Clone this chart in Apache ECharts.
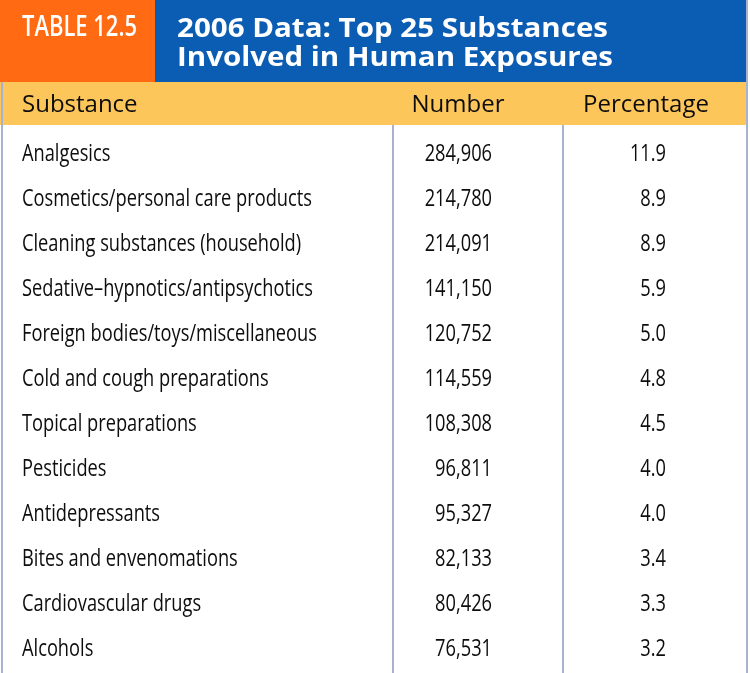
<!DOCTYPE html>
<html><head><meta charset="utf-8">
<script src="https://cdn.jsdelivr.net/npm/echarts@6/dist/echarts.min.js"></script>
<style>html,body{margin:0;padding:0;background:#fff}#c{width:750px;height:673px}</style>
</head><body><div id="c"></div>
<script>
const tableLabel = 'TABLE 12.5';
const titleLines = ['2006 Data: Top 25 Substances', 'Involved in Human Exposures'];
const headers = ['Substance', 'Number', 'Percentage'];
const substances = ['Analgesics','Cosmetics/personal care products','Cleaning substances (household)','Sedative\u2013hypnotics/antipsychotics','Foreign bodies/toys/miscellaneous','Cold and cough preparations','Topical preparations','Pesticides','Antidepressants','Bites and envenomations','Cardiovascular drugs','Alcohols'];
const numbers = [284906,214780,214091,141150,120752,114559,108308,96811,95327,82133,80426,76531];
const percentages = [11.9,8.9,8.9,5.9,5.0,4.8,4.5,4.0,4.0,3.4,3.3,3.2];

const FAM = '"Open Sans", sans-serif';
const BODY_FONT = '24px ' + FAM;
const TITLE_FONT = 'bold 26px ' + FAM;
const TAG_FONT = '600 28px ' + FAM;
const HEAD_FONT = '24px ' + FAM;
const TXT = '#0d0d0d';

const mctx = document.createElement('canvas').getContext('2d');
function measure(text, font){ mctx.font = font; return mctx.measureText(text).width; }
// horizontal condensing factors so Open Sans mimics the condensed face of the original
const bodyScale = 290 / measure('Cosmetics/personal care products', BODY_FONT);
const titleScale = 431 / measure(titleLines[0], TITLE_FONT);
const tagScale = 115 / measure(tableLabel, TAG_FONT);

const chart = echarts.init(document.getElementById('c'), null, {renderer:'canvas'});

function col(anchor, values, fmt, align) {
  return {
    type:'custom', silent:true, animation:false,
    data: values.map((v,i)=>[anchor, i, v]),
    encode:{x:0, y:1},
    renderItem:function(params, api){
      const pt = api.coord([api.value(0), api.value(1)]);
      return {type:'text', x:pt[0], y:pt[1], scaleX:bodyScale,
        style:{text:fmt(values[params.dataIndex]), font:BODY_FONT, fill:TXT, align:align, verticalAlign:'middle'}};
    }
  };
}

chart.setOption({
  animation:false,
  grid:{left:0, right:0, top:132, height:539.8, containLabel:false},
  xAxis:{type:'value', min:0, max:750, show:false},
  yAxis:{type:'category', data:substances, inverse:true, show:false},
  graphic:[
    {type:'rect', shape:{x:0,y:0,width:155,height:82}, style:{fill:'#FF6A12'}},
    {type:'rect', shape:{x:155,y:0,width:592,height:82}, style:{fill:'#0B5CB3'}},
    {type:'rect', shape:{x:0,y:82,width:747,height:43}, style:{fill:'#FDC65B'}},
    {type:'line', shape:{x1:2,y1:82,x2:2,y2:673}, style:{stroke:'#A6B2CF',lineWidth:2}},
    {type:'line', shape:{x1:747,y1:0,x2:747,y2:673}, style:{stroke:'#A6B2CF',lineWidth:2}},
    {type:'line', shape:{x1:393,y1:125,x2:393,y2:673}, style:{stroke:'#A6B2CF',lineWidth:2}},
    {type:'line', shape:{x1:563,y1:125,x2:563,y2:673}, style:{stroke:'#A6B2CF',lineWidth:2}},
    {type:'text', x:22, y:28.5, scaleX:tagScale, style:{text:tableLabel, fill:'#fff', font:TAG_FONT, verticalAlign:'middle'}},
    {type:'text', x:177, y:29.5, scaleX:titleScale, style:{text:titleLines[0], fill:'#fff', font:TITLE_FONT, verticalAlign:'middle'}},
    {type:'text', x:177, y:58.5, scaleX:titleScale, style:{text:titleLines[1], fill:'#fff', font:TITLE_FONT, verticalAlign:'middle'}},
    {type:'text', x:22, y:105, style:{text:headers[0], fill:TXT, font:HEAD_FONT, verticalAlign:'middle'}},
    {type:'text', x:458, y:105, style:{text:headers[1], fill:TXT, font:HEAD_FONT, align:'center', verticalAlign:'middle'}},
    {type:'text', x:646, y:105, style:{text:headers[2], fill:TXT, font:HEAD_FONT, align:'center', verticalAlign:'middle'}}
  ],
  series:[
    col(22, substances, v=>v, 'left'),
    col(492, numbers, v=>v.toLocaleString('en-US'), 'right'),
    col(666, percentages, v=>v.toFixed(1), 'right')
  ]
});
</script></body></html>
